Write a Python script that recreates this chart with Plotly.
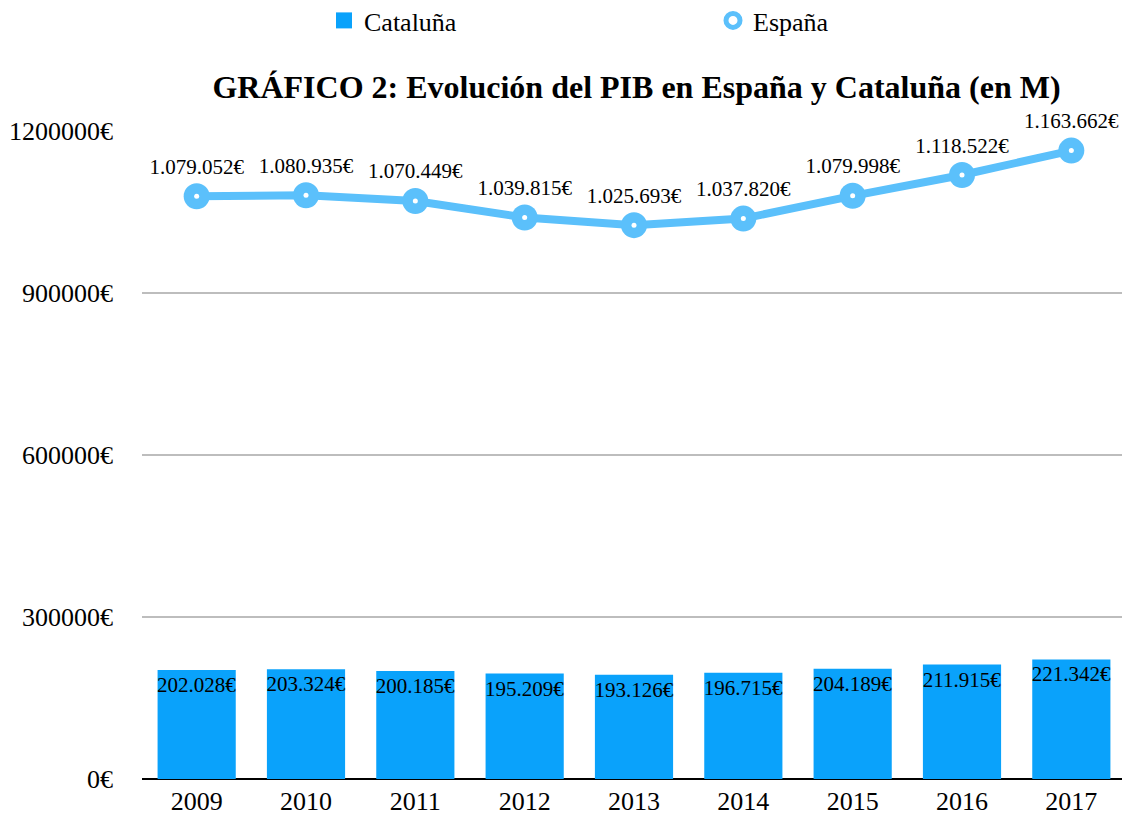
import plotly.graph_objects as go

years = ["2009", "2010", "2011", "2012", "2013", "2014", "2015", "2016", "2017"]
cataluna = [202028, 203324, 200185, 195209, 193126, 196715, 204189, 211915, 221342]
espana = [1079052, 1080935, 1070449, 1039815, 1025693, 1037820, 1079998, 1118522, 1163662]
y_ticks = [0, 300000, 600000, 900000, 1200000]
title_text = "GRÁFICO 2: Evolución del PIB en España y Cataluña (en M)"


def fmt(v):
    return f"{v:,}".replace(",", ".") + "€"


FONT = "Liberation Serif, Times New Roman, serif"
BAR_COLOR = "#0aa2fb"
LINE_COLOR = "#5bc0fb"

fig = go.Figure()
fig.add_trace(go.Bar(
    x=years, y=cataluna, name="Cataluña", showlegend=False,
    marker=dict(color=BAR_COLOR, line=dict(width=0)),
    text=[fmt(v) for v in cataluna],
    textposition="inside", insidetextanchor="end", textangle=0,
    constraintext="none",
    textfont=dict(family=FONT, size=21, color="black"),
    cliponaxis=False,
))
fig.add_trace(go.Scatter(
    x=years, y=espana, name="España", showlegend=False,
    mode="lines+markers+text",
    line=dict(color=LINE_COLOR, width=8),
    marker=dict(color=LINE_COLOR, size=26, symbol="circle"),
    text=[fmt(v) for v in espana],
    textposition="top center",
    textfont=dict(family=FONT, size=21, color="black"),
    cliponaxis=False,
))
fig.add_trace(go.Scatter(
    x=years, y=espana, mode="markers", showlegend=False,
    marker=dict(color="white", size=5),
    hoverinfo="skip", cliponaxis=False,
))
# legend entries
fig.add_trace(go.Scatter(
    x=[None], y=[None], name="Cataluña", mode="markers",
    marker=dict(color=BAR_COLOR, size=22, symbol="square"),
))
fig.add_trace(go.Scatter(
    x=[None], y=[None], name="España", mode="markers",
    marker=dict(color="white", size=14, symbol="circle",
                line=dict(color=LINE_COLOR, width=5)),
))

W, H = 1122, 810
fig.update_layout(
    width=W, height=H,
    margin=dict(l=134, r=4, t=123, b=39, autoexpand=False),
    paper_bgcolor="white", plot_bgcolor="white",
    font=dict(family=FONT, size=26, color="black"),
    bargap=0.285,
    title=dict(text="<b>" + title_text + "</b>", x=628.5 / W, xanchor="center",
               xref="container",
               y=1 - 79 / H, yanchor="middle", font=dict(family=FONT, size=32, color="black")),
    legend=dict(orientation="h", x=316 / W, xanchor="left", xref="container",
                y=1 + (123 + 11) / 648, yref="paper",
                yanchor="top", entrywidth=344, entrywidthmode="pixels",
                font=dict(family=FONT, size=26, color="black"), itemsizing="trace"),
    xaxis=dict(range=[-0.5, len(years) - 0.5], showgrid=False, showline=False,
               ticks="", tickfont=dict(size=26), ticklabelstandoff=4),
    yaxis=dict(range=[0, 1200000], tickvals=y_ticks,
               ticktext=[f"{v}€" for v in y_ticks],
               showgrid=True, gridcolor="#bdbdbd", gridwidth=2,
               zeroline=True, zerolinecolor="black", zerolinewidth=2,
               showline=False, ticks="", ticklabelstandoff=28,
               tickfont=dict(size=26)),
)

fig.write_html("out.html")
